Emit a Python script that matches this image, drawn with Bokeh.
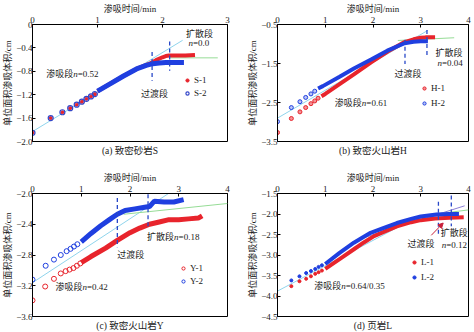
from bokeh.plotting import figure
from bokeh.layouts import gridplot
from bokeh.models import (Range1d, Label, Legend, LegendItem, Title, Arrow,
                          NormalHead, FixedTicker, CustomJSTickFormatter)
from bokeh.embed import file_html
from bokeh.resources import INLINE

# ---------------- data ----------------
# (a) tight sandstone S
s1_sparse_t = [0.0, 0.28, 0.46, 0.58, 0.68, 0.76, 0.83, 0.90, 0.96]
s1_sparse_v = [-1.85, -1.60, -1.50, -1.43, -1.37, -1.32, -1.27, -1.23, -1.19]
s2_sparse_t = [0.0, 0.28, 0.46, 0.58, 0.68, 0.76, 0.83, 0.90, 0.96]
s2_sparse_v = [-1.85, -1.60, -1.50, -1.43, -1.37, -1.32, -1.27, -1.23, -1.19]
s1_dense_t = [1.0, 1.2, 1.4, 1.6, 1.8, 1.9, 2.0, 2.05, 2.1, 2.2, 2.35, 2.5]
s1_dense_v = [-1.14, -1.01, -0.88, -0.76, -0.67, -0.61, -0.56, -0.54, -0.53, -0.53, -0.53, -0.52]
s2_dense_t = [1.0, 1.2, 1.4, 1.6, 1.75, 1.85, 1.95, 2.05, 2.2, 2.33]
s2_dense_v = [-1.14, -1.01, -0.88, -0.76, -0.70, -0.67, -0.66, -0.65, -0.65, -0.65]
a_fit1_t, a_fit1_v = [0.0, 2.31], [-1.83, -0.27]
a_fit2_t, a_fit2_v = [2.10, 2.85], [-0.57, -0.57]
a_trans_t = [1.84, 2.11]
a_trans_top = [-0.47, -0.29]
a_trans_bot = [-0.96, -0.79]

# (b) tight volcanic rock H
h1_sparse_t = [0.0, 0.29, 0.47, 0.59, 0.70, 0.78, 0.85]
h1_sparse_v = [-3.27, -2.91, -2.74, -2.63, -2.53, -2.46, -2.39]
h2_sparse_t = [0.0, 0.29, 0.47, 0.59, 0.70, 0.78]
h2_sparse_v = [-2.99, -2.63, -2.48, -2.37, -2.28, -2.21]
h1_dense_t = [0.92, 1.0, 1.3, 1.6, 1.96, 2.3, 2.66, 2.85, 3.0, 3.1, 3.3]
h1_dense_v = [-2.34, -2.28, -2.03, -1.78, -1.47, -1.20, -0.95, -0.88, -0.84, -0.83, -0.83]
h2_dense_t = [0.85, 0.95, 1.3, 1.6, 1.96, 2.3, 2.66, 2.85, 3.0, 3.15]
h2_dense_v = [-2.14, -2.08, -1.84, -1.63, -1.40, -1.17, -0.98, -0.94, -0.93, -0.93]
b_fit1_t, b_fit1_v = [0.0, 3.15], [-2.90, -0.65]
b_fit2_t, b_fit2_v = [2.52, 3.70], [-0.91, -0.84]
b_trans_t = [2.67, 3.13]
b_trans_top = [-0.89, -0.64]
b_trans_bot = [-1.51, -1.30]

# (c) tight volcanic rock Y
y1_sparse_t = [0.0, 0.26, 0.44, 0.58, 0.68, 0.76, 0.84, 0.91, 0.98]
y1_sparse_v = [-3.39, -3.21, -3.11, -3.04, -3.01, -2.99, -2.97, -2.94, -2.91]
y2_sparse_t = [0.0, 0.27, 0.44, 0.58, 0.70, 0.78, 0.85, 0.92]
y2_sparse_v = [-3.12, -2.94, -2.86, -2.80, -2.75, -2.72, -2.69, -2.66]
y1_dense_t = [1.0, 1.2, 1.5, 1.74, 2.0, 2.2, 2.4, 2.6, 2.8, 3.0, 3.2, 3.4, 3.48]
y1_dense_v = [-2.90, -2.82, -2.71, -2.61, -2.51, -2.45, -2.40, -2.37, -2.34, -2.34, -2.33, -2.32, -2.29]
y2_dense_t = [1.0, 1.2, 1.4, 1.6, 1.74, 1.9, 2.1, 2.3, 2.4, 2.5, 2.7, 2.9, 3.1]
y2_dense_v = [-2.63, -2.52, -2.42, -2.33, -2.27, -2.22, -2.20, -2.18, -2.17, -2.10, -2.11, -2.11, -2.08]
c_fit1_t, c_fit1_v = [0.0, 2.79], [-3.16, -2.00]
c_fit2_t, c_fit2_v = [1.87, 4.0], [-2.27, -2.13]
c_trans_t = [1.74, 2.37]
c_trans_top = [-2.06, -2.01]
c_trans_bot = [-2.70, -2.46]

# (d) shale L
l1_sparse_t = [0.29, 0.46, 0.60, 0.70, 0.79, 0.86, 0.93]
l1_sparse_v = [-3.76, -3.64, -3.58, -3.52, -3.46, -3.42, -3.38]
l2_sparse_t = [0.29, 0.46, 0.60, 0.70, 0.79, 0.86, 0.93]
l2_sparse_v = [-3.62, -3.52, -3.44, -3.39, -3.34, -3.29, -3.25]
l1_dense_t = [1.0, 1.3, 1.6, 1.8, 2.02, 2.3, 2.5, 2.8, 3.0, 3.3, 3.6, 3.9]
l1_dense_v = [-3.34, -3.10, -2.86, -2.70, -2.54, -2.40, -2.30, -2.20, -2.15, -2.11, -2.09, -2.08]
l2_dense_t = [1.0, 1.3, 1.6, 1.8, 1.95, 2.2, 2.5, 2.8, 3.0, 3.33, 3.6, 3.8]
l2_dense_v = [-3.22, -2.95, -2.70, -2.56, -2.46, -2.35, -2.22, -2.12, -2.06, -2.01, -2.00, -2.00]
d_fit1_t, d_fit1_v = [0.0, 2.88], [-3.88, -2.10]
d_fit2_t, d_fit2_v = [1.64, 3.92], [-2.64, -1.80]
d_fit3_t, d_fit3_v = [3.33, 4.0], [-2.00, -1.90]
d_trans_t = [3.37, 3.64]
d_trans_top = [-1.70, -1.55]
d_trans_bot = [-2.55, -2.30]

# ---------------- style ----------------
SERIF = "Liberation Serif, Noto Sans CJK SC"
RED = "#e8242c"
BLUE = "#1f3fe0"
CYAN = "#8fd4ec"
GREEN = "#96dc96"
PURPLE = "#8c80d8"
DASH = "#2848c8"

yfmt = CustomJSTickFormatter(code="""
if (Math.abs(tick) < 1e-9) return '0';
return (tick < 0 ? '\\u2212' : '') + Math.abs(tick).toFixed(1);
""")


def make_panel(x_end, xticks, y0, y1, yticks, bl, br, bt, bb, caption):
    p = figure(width=237, height=166, output_backend="svg", toolbar_location=None,
               x_range=Range1d(0, x_end), y_range=Range1d(y0, y1),
               x_axis_location="above",
               min_border_left=bl, min_border_right=br,
               min_border_top=bt, min_border_bottom=bb)
    p.xgrid.visible = False
    p.ygrid.visible = False
    p.outline_line_color = "black"
    p.outline_line_width = 1
    for ax in (p.xaxis[0], p.yaxis[0]):
        ax.major_tick_in = 3
        ax.major_tick_out = 0
        ax.minor_tick_line_color = None
        ax.axis_line_color = "black"
        ax.major_tick_line_color = "black"
        ax.major_label_text_font = SERIF
        ax.major_label_text_font_size = "9px"
        ax.major_label_text_color = "#222222"
        ax.axis_label_text_font = SERIF
        ax.axis_label_text_font_size = "9px"
        ax.axis_label_text_font_style = "normal"
        ax.axis_label_text_color = "#222222"
        ax.axis_label_text_line_height = 1.0
        ax.axis_label_standoff = 0
    p.xaxis.major_label_standoff = 2
    p.yaxis.major_label_standoff = 0
    p.xaxis.ticker = FixedTicker(ticks=xticks)
    p.yaxis.ticker = FixedTicker(ticks=yticks)
    p.yaxis.formatter = yfmt
    p.xaxis.axis_label = "渗吸时间/min"
    p.yaxis.axis_label = "单位面积渗吸体积/cm"
    p.add_layout(Title(text=caption, align="center", text_font=SERIF,
                       text_font_size="9.5px", text_font_style="normal",
                       text_color="#222222", standoff=4), "below")
    return p


def add_legend(p, items, loc, spacing):
    leg = Legend(items=[LegendItem(label=l, renderers=[r]) for l, r in items],
                 location=loc, border_line_alpha=0, background_fill_alpha=0,
                 padding=0, margin=0, spacing=spacing, label_height=12,
                 glyph_height=10, glyph_width=8, label_standoff=3,
                 label_text_font=SERIF, label_text_font_size="9px",
                 label_text_color="#222222")
    p.add_layout(leg)


def text(p, x, y, parts):
    off = 0
    for s, italic, w in parts:
        p.add_layout(Label(x=x, y=y, x_offset=off, text=s, text_font=SERIF,
                           text_font_size="9px", text_baseline="middle",
                           text_font_style="italic" if italic else "normal",
                           text_color="#222222"))
        off += w


def dashes(p, tt, top, bot):
    p.segment(x0=tt, y0=top, x1=tt, y1=bot, line_color=DASH, line_width=1.3,
              line_dash="4 3")


# ---------------- (a) ----------------
pa = make_panel(3, [0, 1, 2, 3], -2.0, 0.0, [-2.0, -1.6, -1.2, -0.8, -0.4, 0.0],
                31, 10, 24, 25, "(a) 致密砂岩S")
pa.line(a_fit1_t, a_fit1_v, line_color=CYAN, line_width=1)
pa.line(a_fit2_t, a_fit2_v, line_color=GREEN, line_width=1)
pa.line(s1_dense_t, s1_dense_v, line_color=RED, line_width=4)
ra1 = pa.scatter(s1_sparse_t, s1_sparse_v, marker="circle", size=3,
                 fill_color=RED, line_color=RED)
pa.line(s2_dense_t, s2_dense_v, line_color=BLUE, line_width=5)
ra2 = pa.scatter(s2_sparse_t, s2_sparse_v, marker="circle", size=5,
                 fill_color=None, line_color="#3446c8", line_width=1.2)
dashes(pa, a_trans_t, a_trans_top, a_trans_bot)
add_legend(pa, [("S-1", ra1), ("S-2", ra2)], (151, 42), 1)
text(pa, 2.36, -0.17, [("扩散段", False, 27)])
text(pa, 2.40, -0.32, [("n", True, 4.5), ("=0.0", False, 20)])
text(pa, 0.21, -0.84, [("渗吸段", False, 27), ("n", True, 4.5), ("=0.52", False, 20)])
text(pa, 1.67, -1.18, [("过渡段", False, 27)])

# ---------------- (b) ----------------
pb = make_panel(4, [0, 1, 2, 3, 4], -3.5, -0.5, [-3.5, -2.5, -1.5, -0.5],
                40, 6, 24, 25, "(b) 致密火山岩H")
pb.line(b_fit1_t, b_fit1_v, line_color=CYAN, line_width=1)
pb.line(b_fit2_t, b_fit2_v, line_color=GREEN, line_width=1)
pb.line(h1_dense_t, h1_dense_v, line_color=RED, line_width=4)
rb1 = pb.scatter(h1_sparse_t, h1_sparse_v, marker="circle", size=4,
                 fill_color=RED, fill_alpha=0.5, line_color=RED)
pb.line(h2_dense_t, h2_dense_v, line_color=BLUE, line_width=4)
rb2 = pb.scatter(h2_sparse_t, h2_sparse_v, marker="circle", size=4,
                 fill_color=BLUE, fill_alpha=0.3, line_color=BLUE)
dashes(pb, b_trans_t, b_trans_top, b_trans_bot)
add_legend(pb, [("H-1", rb1), ("H-2", rb2)], (143, 32), 3)
text(pb, 3.31, -1.22, [("扩散段", False, 27)])
text(pb, 3.35, -1.48, [("n", True, 4.5), ("=0.04", False, 20)])
text(pb, 2.45, -1.76, [("过渡段", False, 27)])
text(pb, 1.20, -2.50, [("渗吸段", False, 27), ("n", True, 4.5), ("=0.61", False, 20)])

# ---------------- (c) ----------------
pc = make_panel(4, [0, 1, 2, 3, 4], -3.6, -2.0, [-3.6, -3.2, -2.8, -2.4, -2.0],
                32, 10, 27, 14, "(c) 致密火山岩Y")
pc.line(c_fit1_t, c_fit1_v, line_color=CYAN, line_width=1)
pc.line(c_fit2_t, c_fit2_v, line_color=GREEN, line_width=1)
pc.line(y1_dense_t, y1_dense_v, line_color=RED, line_width=5)
rc1 = pc.scatter(y1_sparse_t, y1_sparse_v, marker="circle", size=5,
                 fill_color=None, line_color=RED, line_width=1)
pc.line(y2_dense_t, y2_dense_v, line_color=BLUE, line_width=5)
rc2 = pc.scatter(y2_sparse_t, y2_sparse_v, marker="circle", size=5,
                 fill_color=None, line_color=BLUE, line_width=1)
dashes(pc, c_trans_t, c_trans_top, c_trans_bot)
add_legend(pc, [("Y-1", rc1), ("Y-2", rc2)], (147, 29), 1)
text(pc, 1.74, -2.80, [("过渡段", False, 27)])
text(pc, 2.35, -2.57, [("扩散段", False, 27), ("n", True, 4.5), ("=0.18", False, 20)])
text(pc, 0.47, -3.21, [("渗吸段", False, 27), ("n", True, 4.5), ("=0.42", False, 20)])

# ---------------- (d) ----------------
pd_ = make_panel(4, [0, 1, 2, 3, 4], -4.5, -1.5, [-4.5, -4.0, -3.5, -3.0, -2.5, -2.0, -1.5],
                 40, 5, 27, 14, "(d) 页岩L")
pd_.line(d_fit1_t, d_fit1_v, line_color=CYAN, line_width=1)
pd_.line(d_fit2_t, d_fit2_v, line_color=PURPLE, line_width=1)
pd_.line(d_fit3_t, d_fit3_v, line_color=GREEN, line_width=1)
pd_.line(l1_dense_t, l1_dense_v, line_color=RED, line_width=4)
rd1 = pd_.scatter(l1_sparse_t, l1_sparse_v, marker="circle", size=3,
                  fill_color=RED, line_color=RED)
pd_.line(l2_dense_t, l2_dense_v, line_color=BLUE, line_width=4)
rd2 = pd_.scatter(l2_sparse_t, l2_sparse_v, marker="circle", size=3,
                  fill_color=BLUE, line_color=BLUE)
dashes(pd_, d_trans_t, d_trans_top, d_trans_bot)
pd_.add_layout(Arrow(end=NormalHead(size=5, fill_color="#c8203a", line_color="#c8203a"),
                     x_start=3.22, y_start=-2.52, x_end=3.47, y_end=-2.22,
                     line_color="#c8203a", line_width=1))
add_legend(pd_, [("L-1", rd1), ("L-2", rd2)], (133, 33), 3)
text(pd_, 2.72, -2.72, [("过渡段", False, 27)])
text(pd_, 3.42, -2.46, [("扩散段", False, 27)])
text(pd_, 3.44, -2.75, [("n", True, 4.5), ("=0.12", False, 20)])
text(pd_, 0.77, -3.75, [("渗吸段", False, 27), ("n", True, 4.5), ("=0.64/0.35", False, 40)])

grid = gridplot([[pa, pb], [pc, pd_]], toolbar_location=None)
open("out.html", "w").write(file_html(grid, INLINE))
